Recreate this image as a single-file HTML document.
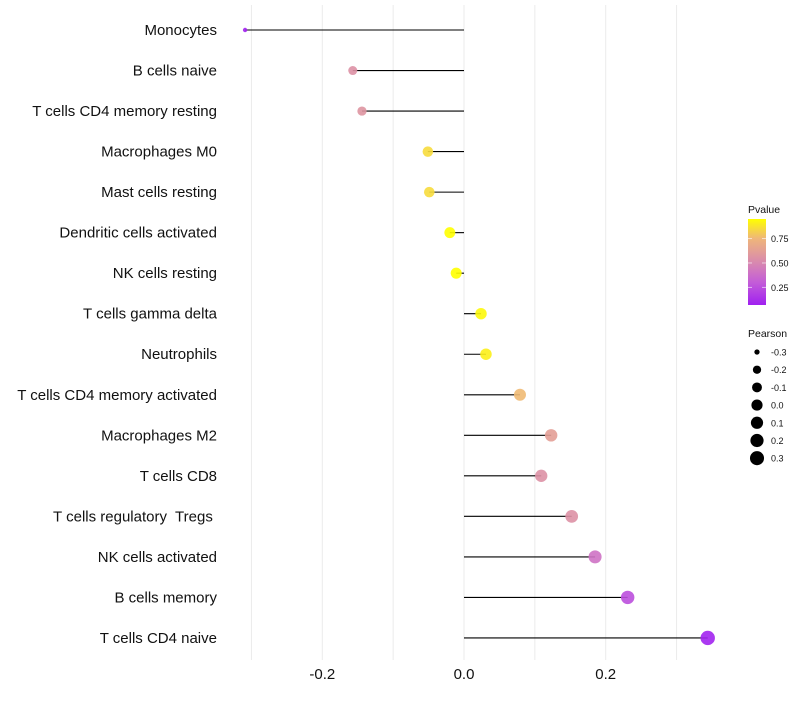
<!DOCTYPE html>
<html><head><meta charset="utf-8"><style>
body{margin:0;background:#fff;font-family:"Liberation Sans",sans-serif}
text{white-space:pre}
</style></head><body>
<svg id="c" width="800" height="700" xmlns="http://www.w3.org/2000/svg"></svg>
<script>
const categories=["Monocytes","B cells naive","T cells CD4 memory resting","Macrophages M0","Mast cells resting","Dendritic cells activated","NK cells resting","T cells gamma delta","Neutrophils","T cells CD4 memory activated","Macrophages M2","T cells CD8","T cells regulatory  Tregs ","NK cells activated","B cells memory","T cells CD4 naive"];
const pearson=[-0.309,-0.157,-0.144,-0.051,-0.049,-0.020,-0.011,0.024,0.031,0.079,0.123,0.109,0.152,0.185,0.231,0.344];
const pvalues=[0.08,0.55,0.57,0.85,0.85,0.95,0.96,0.93,0.91,0.76,0.62,0.55,0.55,0.4,0.25,0.08];
const xTicks=[-0.2,0,0.2];
const xTickLabels=["-0.2","0.0","0.2"];
const sizeLegend=[-0.3,-0.2,-0.1,0.0,0.1,0.2,0.3];
const sizeLegendLabels=["-0.3","-0.2","-0.1","0.0","0.1","0.2","0.3"];
const pLegend=[0.25,0.5,0.75];
const pLegendLabels=["0.25","0.50","0.75"];

const svg=document.getElementById('c');
const NS="http://www.w3.org/2000/svg";
function el(t,a,p){const e=document.createElementNS(NS,t);for(const k in a)e.setAttribute(k,a[k]);(p||svg).appendChild(e);return e;}
const x=v=>464+v*708.5;
const y=i=>30+i*40.53;
const r=v=>{const t=Math.max(0,(v+0.31)/0.654);return 2+5.2*Math.sqrt(t);};
const stops=[[0.07,[160,32,240]],[0.3,[195,92,216]],[0.5,[216,136,176]],[0.75,[239,182,122]],[0.95,[255,255,0]]];
function col(p){if(p<=stops[0][0])return rgb(stops[0][1]);for(let i=1;i<stops.length;i++){if(p<=stops[i][0]){const a=stops[i-1],b=stops[i];const t=(p-a[0])/(b[0]-a[0]);return rgb(a[1].map((c,j)=>c+(b[1][j]-c)*t));}}return rgb(stops[stops.length-1][1]);}
function rgb(c){return `rgb(${c.map(Math.round).join(',')})`;}

for(let v=-0.3;v<=0.31;v+=0.1){const g=el('line',{x1:x(v),x2:x(v),y1:5,y2:660,stroke:'#ebebeb','stroke-width':1});

}
xTicks.forEach((v,i)=>{const t=el('text',{x:x(v),y:679,'text-anchor':'middle','font-size':15,fill:'#111'});t.textContent=xTickLabels[i];

});
categories.forEach((c,i)=>{
const t=el('text',{x:217,y:y(i)+5,'text-anchor':'end','font-size':15,fill:'#111'});t.textContent=c;


const l=el('line',{x1:x(0),x2:x(pearson[i]),y1:y(i),y2:y(i),stroke:'#000','stroke-width':1.1});


const d=el('circle',{cx:x(pearson[i]),cy:y(i),r:r(pearson[i]),fill:col(pvalues[i]),'fill-opacity':0.9});


});
const lt=el('text',{x:748,y:213,'font-size':10.5,fill:'#111'});lt.textContent='Pvalue';


const defs=el('defs',{});const lg=el('linearGradient',{id:'g',x1:0,y1:1,x2:0,y2:0},defs);
stops.forEach(s=>el('stop',{offset:(s[0]-0.07)/0.88,'stop-color':rgb(s[1])},lg));
const py=p=>305-(p-0.07)/0.88*86;
const bar=el('rect',{x:748,y:219,width:18,height:86,fill:'url(#g)'});


pLegend.forEach((p,i)=>{el('line',{x1:748,x2:752,y1:py(p),y2:py(p),stroke:'#fff','stroke-opacity':0.6});el('line',{x1:762,x2:766,y1:py(p),y2:py(p),stroke:'#fff','stroke-opacity':0.6});
const t=el('text',{x:771,y:py(p)+3.5,'font-size':9,fill:'#111'});t.textContent=pLegendLabels[i];

});
const st=el('text',{x:748,y:337,'font-size':10.5,fill:'#111'});st.textContent='Pearson';


sizeLegend.forEach((v,i)=>{const cy=352+i*17.7;
const c=el('circle',{cx:757,cy:cy,r:r(v),fill:'#000'});


const t=el('text',{x:771,y:cy+3.5,'font-size':9,fill:'#111'});t.textContent=sizeLegendLabels[i];

});
</script>
</body></html>
